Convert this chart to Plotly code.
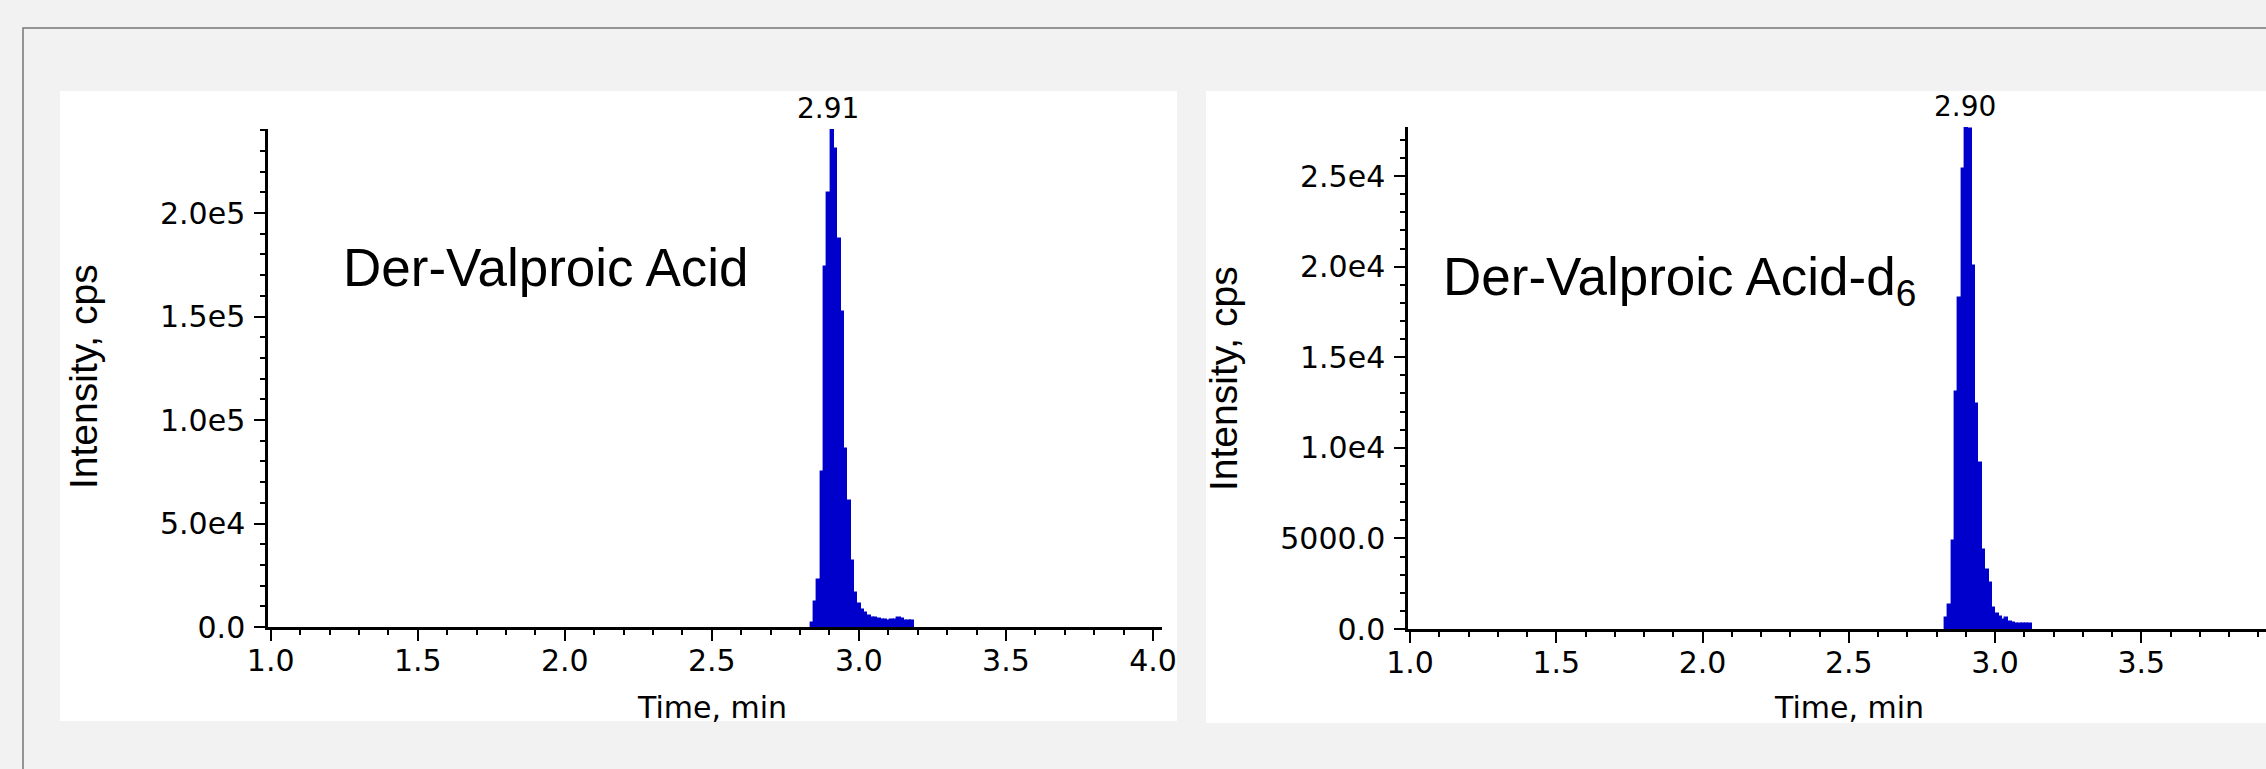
import plotly.graph_objects as go

W, H = 2266, 769

# ---------------- data ----------------
left_time = [2.842, 2.853, 2.865, 2.876, 2.887, 2.899, 2.910, 2.921, 2.933, 2.944,
             2.955, 2.967, 2.978, 2.989, 3.000, 3.012, 3.023, 3.034, 3.046, 3.057,
             3.068, 3.080, 3.091, 3.102, 3.113, 3.125, 3.136, 3.147, 3.159, 3.170, 3.181]
left_intensity = [2100, 11900, 22600, 75100, 174000, 209500, 240000, 231000, 187500, 152400,
                  85800, 60900, 31700, 16500, 11000, 8200, 6800, 5400, 4300, 4200,
                  4000, 3400, 3200, 3100, 3200, 3300, 4400, 4000, 3000, 2800, 2700]

right_time = [2.835, 2.846, 2.858, 2.869, 2.881, 2.892, 2.903, 2.915, 2.926, 2.937,
              2.949, 2.960, 2.972, 2.983, 2.994, 3.006, 3.017, 3.029, 3.040, 3.051,
              3.063, 3.074, 3.085, 3.097, 3.108, 3.120]
right_intensity = [620, 1320, 4870, 13100, 18250, 25370, 27690, 27600, 20030, 12400,
                   9180, 4360, 3260, 2560, 1160, 820, 660, 520, 620, 410,
                   310, 300, 300, 290, 280, 270]

x_tickvals = [1.0, 1.5, 2.0, 2.5, 3.0, 3.5, 4.0]
x_ticktext = ["1.0", "1.5", "2.0", "2.5", "3.0", "3.5", "4.0"]
left_y_tickvals = [0, 50000, 100000, 150000, 200000]
left_y_ticktext = ["0.0", "5.0e4", "1.0e5", "1.5e5", "2.0e5"]
right_y_tickvals = [0, 5000, 10000, 15000, 20000, 25000]
right_y_ticktext = ["0.0", "5000.0", "1.0e4", "1.5e4", "2.0e4", "2.5e4"]

left_title = "Der-Valproic Acid"
right_title = "Der-Valproic Acid-d<sub>6</sub>"
left_peak = (2.91, "2.91")
right_peak = (2.903, "2.90")
x_title = "Time, min"
y_title = "Intensity, cps"
cycle = 0.0121  # bar width (min)


def px(x):
    return x / W


def py(y):
    return 1 - y / H


BLUE = "#0000CC"
TICKFONT = dict(family="DejaVu Sans", size=30, color="black")

fig = go.Figure()
fig.add_trace(go.Bar(x=left_time, y=left_intensity, width=cycle,
                     marker=dict(color=BLUE, line=dict(width=1.4, color=BLUE)),
                     xaxis="x", yaxis="y", hoverinfo="x+y"))
fig.add_trace(go.Bar(x=right_time, y=right_intensity, width=cycle,
                     marker=dict(color=BLUE, line=dict(width=1.4, color=BLUE)),
                     xaxis="x2", yaxis="y2", hoverinfo="x+y"))


def xax(domain, rng, anchor):
    return dict(domain=domain, range=rng, anchor=anchor, tickvals=x_tickvals, ticktext=x_ticktext,
                ticks="outside", ticklen=11, tickwidth=2, tickcolor="black", automargin=False,
                ticklabelstandoff=-6,
                showline=True, linecolor="black", linewidth=2.5, showgrid=False, zeroline=False,
                tickfont=TICKFONT, fixedrange=True,
                minor=dict(dtick=0.1, tick0=1.0, ticks="outside", ticklen=5, tickwidth=2,
                           tickcolor="black", showgrid=False))


def yax(domain, rng, anchor, vals, text, minor_dtick):
    return dict(domain=domain, range=rng, anchor=anchor, tickvals=vals, ticktext=text,
                ticks="outside", ticklen=11, tickwidth=2, tickcolor="black", automargin=False,
                ticklabelstandoff=3,
                showline=True, linecolor="black", linewidth=2.5, showgrid=False, zeroline=False,
                tickfont=TICKFONT, fixedrange=True,
                minor=dict(dtick=minor_dtick, tick0=0, ticks="outside", ticklen=5, tickwidth=2,
                           tickcolor="black", showgrid=False))


shapes = [
    # outer frame
    dict(type="rect", xref="paper", yref="paper", x0=px(23), x1=px(2300), y0=py(28), y1=py(800),
         line=dict(color="#777777", width=1.5), fillcolor="rgba(0,0,0,0)", layer="below"),
    # white panels
    dict(type="rect", xref="paper", yref="paper", x0=px(60), x1=px(1177), y0=py(91), y1=py(721),
         line=dict(width=0), fillcolor="white", layer="below"),
    dict(type="rect", xref="paper", yref="paper", x0=px(1206), x1=px(2300), y0=py(91), y1=py(723),
         line=dict(width=0), fillcolor="white", layer="below"),
]

annotations = [
    dict(text=left_peak[1], xref="x", x=left_peak[0], xshift=-4, yref="paper", y=py(108),
         showarrow=False, xanchor="center", yanchor="middle", font=dict(family="DejaVu Sans", size=28, color="black")),
    dict(text=right_peak[1], xref="x2", x=right_peak[0], xshift=-2, yref="paper", y=py(107),
         showarrow=False, xanchor="center", yanchor="middle", font=dict(family="DejaVu Sans", size=28, color="black")),
    dict(text=left_title, xref="paper", x=px(341), yref="paper", y=py(267), showarrow=False,
         xanchor="left", yanchor="middle", font=dict(family="Liberation Sans", size=53, color="black")),
    dict(text=right_title, xref="paper", x=px(1441), yref="paper", y=py(280), showarrow=False,
         xanchor="left", yanchor="middle", font=dict(family="Liberation Sans", size=53, color="black")),
    dict(text=x_title, xref="paper", x=px(712), yref="paper", y=py(707), showarrow=False,
         xanchor="center", yanchor="middle", font=dict(family="DejaVu Sans", size=30, color="black")),
    dict(text=x_title, xref="paper", x=px(1849), yref="paper", y=py(707), showarrow=False,
         xanchor="center", yanchor="middle", font=dict(family="DejaVu Sans", size=30, color="black")),
    dict(text=y_title, xref="paper", x=px(83), yref="paper", y=py(377), showarrow=False, textangle=-90,
         xanchor="center", yanchor="middle", font=dict(family="Liberation Sans", size=39, color="black")),
    dict(text=y_title, xref="paper", x=px(1224), yref="paper", y=py(379), showarrow=False, textangle=-90,
         xanchor="center", yanchor="middle", font=dict(family="Liberation Sans", size=39, color="black")),
    # last tick label of right panel, mostly cut off by the picture edge
    dict(text=x_ticktext[-1], xref="x2", x=x_tickvals[-1], yref="paper", y=py(661), showarrow=False,
         xanchor="center", yanchor="middle", font=TICKFONT),
]

fig.update_layout(
    width=W, height=H, margin=dict(l=0, r=0, t=0, b=0, pad=0), autosize=False,
    paper_bgcolor="#f2f2f2", plot_bgcolor="rgba(0,0,0,0)",
    showlegend=False, barmode="overlay", bargap=0,
    xaxis=xax([px(268), px(1162)], [0.9908, 4.0306], "y"),
    yaxis=yax([py(627), py(129)], [0, 240600], "x", left_y_tickvals, left_y_ticktext, 10000),
    xaxis2=xax([px(1408), 1.0], [0.99316, 3.9265], "y2"),
    yaxis2=yax([py(629), py(127)], [0, 27710], "x2", right_y_tickvals, right_y_ticktext, 1000),
    shapes=shapes, annotations=annotations,
)

fig.write_html("out.html", config={"displayModeBar": False},
               post_script="document.body.style.margin='0';document.body.style.overflow='hidden';")
